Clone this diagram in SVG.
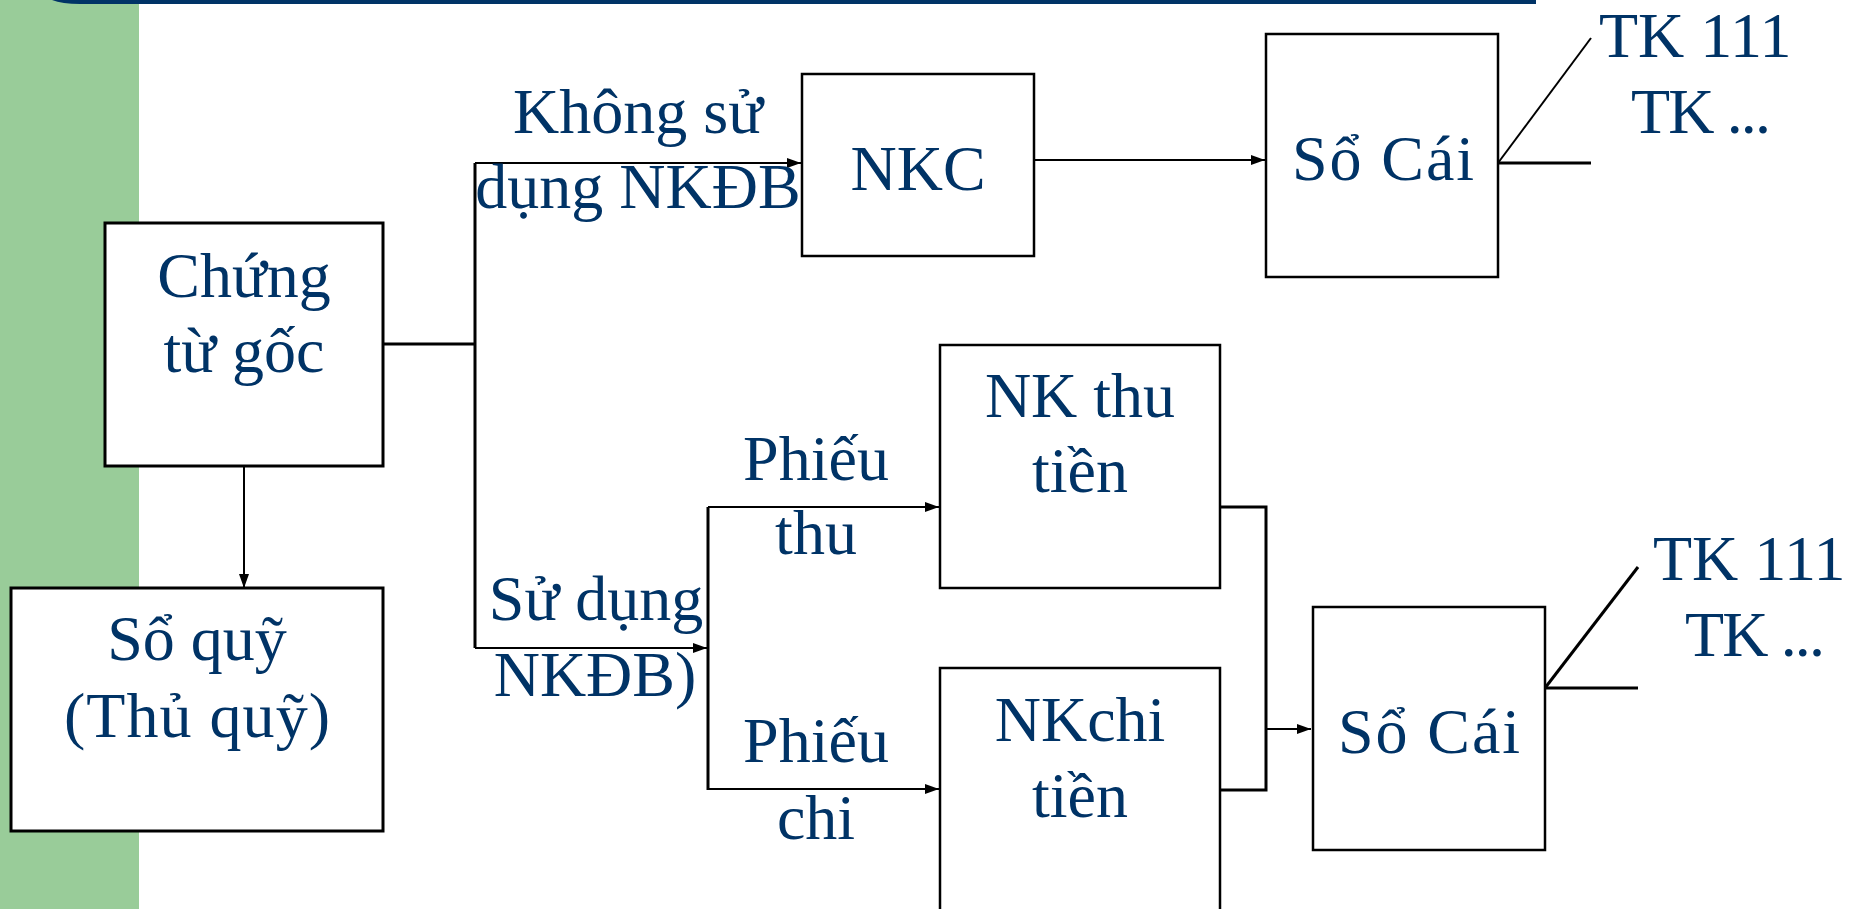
<svg xmlns="http://www.w3.org/2000/svg" width="1862" height="909" viewBox="0 0 1862 909">
  <style>
    .bg { fill: #ffffff; }
    .band { fill: #99cc99; }
    .bar { fill: #003366; }
    .box { fill: #ffffff; stroke: #000000; stroke-width: 2.5; }
    .box-heavy { fill: #ffffff; stroke: #000000; stroke-width: 3; }
    .lbl { font-family: "Liberation Serif", "Times New Roman", serif; font-size: 64px; fill: #003366; }
    .mid { text-anchor: middle; }
    .wire { fill: none; stroke: #000000; stroke-width: 3; }
    .flow { fill: none; stroke: #000000; stroke-width: 2; }
  </style>
  <defs>
    <marker id="arrow" markerUnits="userSpaceOnUse" markerWidth="15" markerHeight="11" refX="14" refY="5" orient="auto">
      <path d="M0,0 L14,5 L0,10 z" fill="#000000"/>
    </marker>
  </defs>

  <!-- page background, side band and title rule -->
  <rect class="bg" x="0" y="0" width="1862" height="909"/>
  <rect class="band" x="0" y="0" width="139" height="909"/>
  <path class="bar" d="M52,0 Q62,4 80,4 L1536,4 L1536,0 z"/>

  <!-- connectors -->
  <g id="connectors">
    <line class="flow" x1="244" y1="466" x2="244" y2="588" marker-end="url(#arrow)"/>
    <polyline class="wire" points="383,344 475,344"/>
    <line class="wire" x1="475" y1="163" x2="475" y2="648"/>
    <line class="flow" x1="475" y1="163" x2="801" y2="163" marker-end="url(#arrow)"/>
    <line class="flow" x1="475" y1="648" x2="707" y2="648" marker-end="url(#arrow)"/>
    <line class="flow" x1="1034" y1="160" x2="1265" y2="160" marker-end="url(#arrow)"/>
    <line class="wire" x1="708" y1="507" x2="708" y2="790"/>
    <line class="flow" x1="708" y1="507" x2="939" y2="507" marker-end="url(#arrow)"/>
    <line class="flow" x1="708" y1="789" x2="939" y2="789" marker-end="url(#arrow)"/>
    <polyline class="wire" points="1220,507 1266,507 1266,790 1220,790"/>
    <line class="flow" x1="1266" y1="729" x2="1311" y2="729" marker-end="url(#arrow)"/>
    <line class="flow" x1="1498" y1="163" x2="1591" y2="38"/>
    <line class="wire" x1="1498" y1="163" x2="1591" y2="163"/>
    <line class="wire" x1="1545" y1="688" x2="1638" y2="567"/>
    <line class="wire" x1="1545" y1="688" x2="1638" y2="688"/>
  </g>

  <!-- branch labels -->
  <g id="label-khong-su-dung">
    <text class="lbl mid" x="638" y="133">Không sử</text>
    <text class="lbl mid" x="638" y="208">dụng NKĐB</text>
  </g>
  <g id="label-su-dung">
    <text class="lbl mid" x="596" y="620">Sử dụng</text>
    <text class="lbl mid" x="595" y="696">NKĐB)</text>
  </g>
  <g id="label-phieu-thu">
    <text class="lbl mid" x="816" y="480">Phiếu</text>
    <text class="lbl mid" x="816" y="554">thu</text>
  </g>
  <g id="label-phieu-chi">
    <text class="lbl mid" x="816" y="762">Phiếu</text>
    <text class="lbl mid" x="816" y="839">chi</text>
  </g>

  <!-- nodes -->
  <g id="chung-tu-goc">
    <rect class="box-heavy" x="105" y="223" width="278" height="243"/>
    <text class="lbl mid" x="244" y="297">Chứng</text>
    <text class="lbl mid" x="244" y="372">từ gốc</text>
  </g>
  <g id="so-quy">
    <rect class="box-heavy" x="11" y="588" width="372" height="243"/>
    <text class="lbl mid" x="197" y="660">Sổ quỹ</text>
    <text class="lbl mid" x="197" y="737" textLength="266" lengthAdjust="spacing">(Thủ quỹ)</text>
  </g>
  <g id="nkc">
    <rect class="box" x="802" y="74" width="232" height="182"/>
    <text class="lbl mid" x="918" y="190">NKC</text>
  </g>
  <g id="so-cai-1">
    <rect class="box" x="1266" y="34" width="232" height="243"/>
    <text class="lbl mid" x="1383" y="180" textLength="182" lengthAdjust="spacing">Sổ Cái</text>
  </g>
  <g id="tk-1">
    <text class="lbl" x="1599" y="57">TK 111</text>
    <text class="lbl" x="1631" y="133" textLength="140" lengthAdjust="spacing">TK ...</text>
  </g>
  <g id="nk-thu-tien">
    <rect class="box" x="940" y="345" width="280" height="243"/>
    <text class="lbl mid" x="1080" y="417">NK thu</text>
    <text class="lbl mid" x="1080" y="492">tiền</text>
  </g>
  <g id="nk-chi-tien">
    <rect class="box" x="940" y="668" width="280" height="280"/>
    <text class="lbl mid" x="1080" y="741">NKchi</text>
    <text class="lbl mid" x="1080" y="817">tiền</text>
  </g>
  <g id="so-cai-2">
    <rect class="box" x="1313" y="607" width="232" height="243"/>
    <text class="lbl mid" x="1429" y="753" textLength="182" lengthAdjust="spacing">Sổ Cái</text>
  </g>
  <g id="tk-2">
    <text class="lbl" x="1653" y="580">TK 111</text>
    <text class="lbl" x="1685" y="656" textLength="140" lengthAdjust="spacing">TK ...</text>
  </g>
</svg>
